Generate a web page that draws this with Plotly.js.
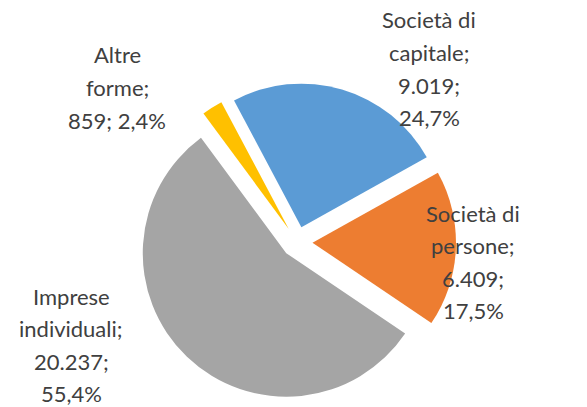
<!DOCTYPE html>
<html>
<head>
<meta charset="utf-8">
<script src="https://cdn.plot.ly/plotly-3.0.1.min.js"></script>
<style>
  html, body { margin: 0; padding: 0; background: #fff; }
  #chart { width: 587px; height: 407px; }
</style>
</head>
<body>
<div id="chart"></div>
<script>
// dati: imprese per forma giuridica
const categories = ['Società di capitale', 'Società di persone', 'Imprese individuali', 'Altre forme'];
const values = [9019, 6409, 20237, 859];
const colors = ['#5B9BD5', '#ED7D31', '#A5A5A5', '#FFC000'];

// posizione etichette (pixel) : centro x, y prima riga, valore e % sulla stessa riga?
const labelPos = [
  { x: 429, y: 20, oneLine: false },
  { x: 473, y: 213, oneLine: false },
  { x: 71, y: 296, oneLine: false },
  { x: 117, y: 55, oneLine: true }
];
const W = 587, H = 407, LINE = 32.5;

function fmtInt(n) {
  return String(n).replace(/\B(?=(\d{3})+(?!\d))/g, '.');
}

const total = values.reduce((a, b) => a + b, 0);
const annotations = [];
categories.forEach((cat, i) => {
  const cut = cat.lastIndexOf(' ');
  const pct = (values[i] / total * 100).toFixed(1).replace('.', ',') + '%';
  let lines = [cat.slice(0, cut), cat.slice(cut + 1) + ';'];
  if (labelPos[i].oneLine) lines.push(fmtInt(values[i]) + '; ' + pct);
  else lines.push(fmtInt(values[i]) + ';', pct);
  lines.forEach((t, k) => {
    annotations.push({
      text: t,
      xref: 'paper', yref: 'paper',
      x: labelPos[i].x / W,
      y: 1 - (labelPos[i].y + k * LINE) / H,
      xanchor: 'center', yanchor: 'middle',
      showarrow: false,
      borderpad: 0,
      font: { family: 'Lato, sans-serif', size: 22, color: '#404040' }
    });
  });
});

const trace = {
  type: 'pie',
  labels: categories,
  values: values,
  sort: false,
  direction: 'clockwise',
  rotation: -28,
  pull: 0.108,
  textinfo: 'none',
  hoverinfo: 'label+value+percent',
  marker: { colors: colors, line: { width: 0 } },
  domain: { x: [138 / W, 456 / W], y: [5.5 / H, 324.5 / H] }
};

const layout = {
  width: W, height: H,
  margin: { l: 0, r: 0, t: 0, b: 0 },
  showlegend: false,
  paper_bgcolor: '#fff',
  annotations: annotations
};

Plotly.newPlot('chart', [trace], layout, { displayModeBar: false, staticPlot: true });
</script>
</body>
</html>
